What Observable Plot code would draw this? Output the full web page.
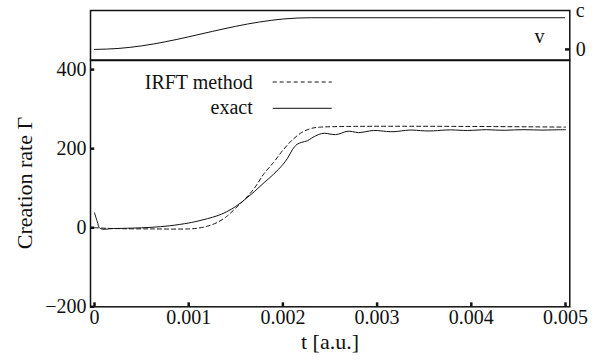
<!DOCTYPE html>
<html><head>
<meta charset="utf-8">
<script src="https://cdn.jsdelivr.net/npm/d3@7"></script>
<script src="https://cdn.jsdelivr.net/npm/@observablehq/plot@0.6"></script>
<style>
body{margin:0;background:#fff}
#wrap{position:relative;width:602px;height:364px;font-family:"Liberation Serif",serif;color:#111}
#wrap > svg{position:absolute;left:0;top:0}
#wrap svg text{font-family:"Liberation Serif",serif !important}
.lab{position:absolute;white-space:nowrap;line-height:1;font-family:"Liberation Serif",serif}
</style></head><body><div id="wrap"></div>
<script>
// ---- data ----
const xTicks = [0, 0.001, 0.002, 0.003, 0.004, 0.005];
const xTickLabels = ["0", "0.001", "0.002", "0.003", "0.004", "0.005"];
const yTicks = [-200, 0, 200, 400];
const yTickLabels = ["\u2212200", "0", "200", "400"];
const vTicks = [0, 1];
const vTickLabels = ["0", "c"];

// exact creation rate
const exactT = [0, 0.00003, 0.00006, 0.0002, 0.0004, 0.0006, 0.0008, 0.001, 0.0011, 0.0012, 0.0013, 0.0014,
  0.0015, 0.0016, 0.0017, 0.0018, 0.0019, 0.002, 0.00205, 0.0021, 0.00215, 0.0022, 0.00226, 0.0023,
  0.00238, 0.00244, 0.0025, 0.00256, 0.00262, 0.00268, 0.00274, 0.0028, 0.00288, 0.00296, 0.00304,
  0.0031, 0.00318, 0.00326, 0.00334, 0.00342, 0.0035, 0.0036, 0.00368, 0.00378, 0.00388, 0.00396,
  0.00406, 0.00416, 0.00426, 0.00436, 0.00446, 0.00456, 0.00466, 0.00476, 0.00486, 0.005];
const exactG = [38, 15, -2, -2, -1, 1, 5, 12, 17, 23, 30, 40,
  54, 72, 92, 114, 135, 160, 176, 197, 211, 216, 220, 226,
  236, 239, 237, 235.5, 239, 244, 243, 240.5, 243, 246, 245,
  243.5, 243, 245, 247, 246.5, 245, 245, 246.5, 247.5, 246.5, 246,
  247, 248, 247, 246.5, 247.5, 248, 247.5, 247, 247.5, 248];

// IRFT method
const irftT = [0, 0.0002, 0.0006, 0.001, 0.0011, 0.0012, 0.0013, 0.0014, 0.0015, 0.0016, 0.0017,
  0.0018, 0.0019, 0.002, 0.0021, 0.0022, 0.0023, 0.0024, 0.005];
const irftG = [0, -2, -3, -3, -1, 4, 13, 28, 50, 73, 101, 137, 165, 196, 222, 241, 251, 254.5, 254.5];

// velocity (top panel, units of c)
const vT = [0, 0.00025, 0.0005, 0.00075, 0.001, 0.00125, 0.0015, 0.00175, 0.002, 0.00215, 0.0023, 0.00499];
const vV = [0, 0.024, 0.091, 0.195, 0.324, 0.462, 0.594, 0.704, 0.781, 0.806, 0.814, 0.814];

const exact = exactT.map((t, i) => ({t, g: exactG[i]}));
const irft = irftT.map((t, i) => ({t, g: irftG[i]}));
const vel = vT.map((t, i) => ({t, v: vV[i]}));

const FF = "Liberation Serif";
const xDomain = [-0.0000425, 0.0050456];
const wrap = document.getElementById("wrap");

// ---- main panel ----
const mainPlot = Plot.plot({
  width: 602, height: 364,
  marginLeft: 90, marginRight: 32.7, marginTop: 60, marginBottom: 57.7,
  style: "background: transparent; overflow: visible; font-family: 'Liberation Serif', serif; font-size: 20px;",
  x: {domain: xDomain},
  y: {domain: [-200, 423]},
  marks: [
    Plot.line(irft, {x: "t", y: "g", stroke: "#111", strokeWidth: 1, strokeDasharray: "4,3", curve: "catmull-rom"}),
    Plot.line(exact, {x: "t", y: "g", stroke: "#111", strokeWidth: 1, curve: "catmull-rom"}),
    Plot.ruleX(xTicks, {x: d => d, y1: -200, y2: -190, stroke: "#111", strokeWidth: 2.5}),
    Plot.ruleY(yTicks, {y: d => d, x1: xDomain[0], x2: xDomain[0] + 0.000045, stroke: "#111", strokeWidth: 2.5}),
    Plot.axisX({ticks: xTicks, tickFormat: d => xTickLabels[xTicks.indexOf(d)], tickSize: 0, tickPadding: 3, label: null, fontSize: 20, fontFamily: FF, fill: "#111"}),
    Plot.axisY({ticks: yTicks, tickFormat: d => yTickLabels[yTicks.indexOf(d)], tickSize: 0, tickPadding: 4, label: null, fontSize: 20, fontFamily: FF, fill: "#111"}),
    Plot.frame({stroke: "#111", strokeWidth: 1.5})
  ]
});
wrap.appendChild(mainPlot);

// ---- top panel ----
const topPlot = Plot.plot({
  width: 602, height: 364,
  marginLeft: 90, marginRight: 32.7, marginTop: 10, marginBottom: 304.5,
  style: "background: transparent; overflow: visible; font-family: 'Liberation Serif', serif; font-size: 20px;",
  x: {domain: xDomain, axis: null},
  y: {domain: [-0.272, 1]},
  marks: [
    Plot.line(vel, {x: "t", y: "v", stroke: "#111", strokeWidth: 1, curve: "monotone-x"}),
    Plot.ruleY([0], {y: d => d, x1: xDomain[1] - 0.000045, x2: xDomain[1], stroke: "#111", strokeWidth: 2.5}),
    Plot.axisY({anchor: "right", ticks: vTicks, tickFormat: d => vTickLabels[vTicks.indexOf(d)], tickSize: 0, tickPadding: 6, label: null, fontSize: 20, fontFamily: FF, fill: "#111"}),
    Plot.text(["v"], {x: 0.004724, y: 0.33, text: d => d, fontSize: 20, fontFamily: FF, fill: "#111"}),
    Plot.frame({stroke: "#111", strokeWidth: 1.5})
  ]
});
wrap.appendChild(topPlot);

// ---- legend lines (svg) ----
const ns = "http://www.w3.org/2000/svg";
const ov = document.createElementNS(ns, "svg");
ov.setAttribute("width", 602); ov.setAttribute("height", 364);
ov.innerHTML = `
  <line x1="272.7" x2="331.7" y1="82" y2="82" stroke="#111" stroke-width="1" stroke-dasharray="4,3"/>
  <line x1="272.7" x2="331.7" y1="108.3" y2="108.3" stroke="#111" stroke-width="1"/>
`;
wrap.appendChild(ov);

// ---- titles & legend text as HTML ----
function label(text, css) {
  const d = document.createElement("div");
  d.className = "lab";
  d.textContent = text;
  Object.assign(d.style, css);
  wrap.appendChild(d);
  return d;
}
label("t [a.u.]", {left: "300px", width: "60px", textAlign: "center", top: "331px", fontSize: "22px"});
label("Creation rate \u0393", {left: "-60px", width: "170px", textAlign: "center", top: "172px", fontSize: "22px", transform: "rotate(-90deg)"});
label("IRFT method", {left: "100px", width: "152.7px", textAlign: "right", top: "72px", fontSize: "20px"});
label("exact", {left: "100px", width: "152.7px", textAlign: "right", top: "97px", fontSize: "20px"});

for (const svg of wrap.querySelectorAll("svg")) {
  for (const t of svg.querySelectorAll("text")) {
    t.setAttribute("font-family", FF);
    t.style.setProperty("font-family", "'Liberation Serif', serif", "important");
  }
}
</script>
</body></html>
